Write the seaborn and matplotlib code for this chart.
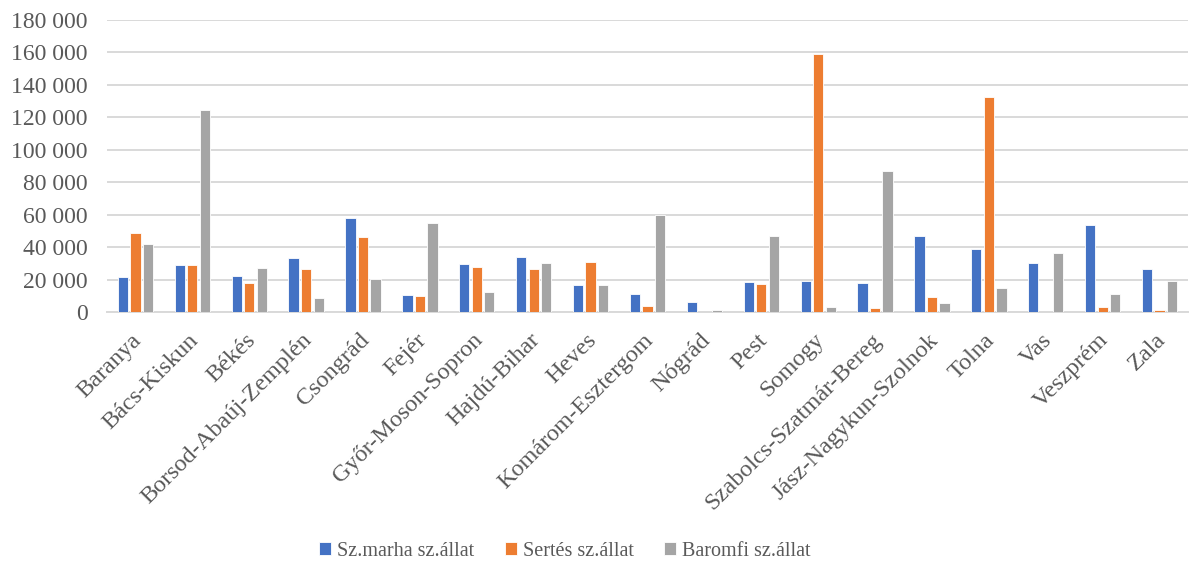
import matplotlib
matplotlib.use("Agg")
import matplotlib.pyplot as plt
import matplotlib.transforms as mtransforms
import seaborn as sns
import pandas as pd
from matplotlib.ticker import FuncFormatter, MultipleLocator

categories = ["Baranya", "Bács-Kiskun", "Békés", "Borsod-Abaúj-Zemplén", "Csongrád",
              "Fejér", "Győr-Moson-Sopron", "Hajdú-Bihar", "Heves", "Komárom-Esztergom",
              "Nógrád", "Pest", "Somogy", "Szabolcs-Szatmár-Bereg", "Jász-Nagykun-Szolnok",
              "Tolna", "Vas", "Veszprém", "Zala"]
series_names = ["Sz.marha sz.állat", "Sertés sz.állat", "Baromfi sz.állat"]
marha = [21700, 29200, 22000, 33500, 57900, 10700, 29800, 33900, 16400, 11300,
         6200, 18500, 19100, 18100, 46600, 38600, 30200, 53600, 26700]
sertes = [48900, 29200, 17900, 26500, 46000, 9900, 27500, 26700, 30600, 3900,
          0, 17500, 159200, 2700, 9500, 132300, 0, 3300, 1000]
baromfi = [42100, 124700, 27300, 8800, 20500, 54900, 12100, 30400, 16600, 59800,
           1200, 46600, 2900, 87100, 5800, 14800, 36400, 11100, 19300]
colors = ["#4472C4", "#ED7D31", "#A5A5A5"]

rows = []
for name, vals in zip(series_names, [marha, sertes, baromfi]):
    for c, v in zip(categories, vals):
        rows.append({"megye": c, "sorozat": name, "ertek": v})
df = pd.DataFrame(rows)

sns.set_style("white")
plt.rcParams["font.family"] = ["Liberation Serif", "DejaVu Serif"]
text_color = "#595959"

fig = plt.figure(figsize=(11.9, 5.62), dpi=100)
ax = fig.add_axes([107 / 1190, 1 - 312 / 562, (1188 - 107) / 1190, (312 - 20) / 562])

sns.barplot(data=df, x="megye", y="ertek", hue="sorozat", order=categories,
            hue_order=series_names, palette=colors, saturation=1, width=0.66, gap=0.18,
            edgecolor="#FFFFFF", linewidth=0.6, ax=ax, legend=True, zorder=3)

ax.set_xlim(-0.5, len(categories) - 0.5)
ax.set_ylim(0, 180000)
ax.yaxis.set_major_locator(MultipleLocator(20000))
ax.yaxis.set_major_formatter(FuncFormatter(lambda v, p: f"{int(v):,}".replace(",", " ")))
ax.grid(axis="y", color="#D9D9D9", linewidth=1.4, zorder=0)
ax.set_axisbelow(True)
for s in ["top", "right", "left"]:
    ax.spines[s].set_visible(False)
ax.spines["bottom"].set_color("#D9D9D9")
ax.spines["bottom"].set_linewidth(1.4)
ax.tick_params(axis="both", length=0, colors=text_color)
ax.tick_params(axis="y", labelsize=17, pad=14)
ax.tick_params(axis="x", labelsize=17.5, pad=18)
ax.set_xlabel("")
ax.set_ylabel("")
offset = mtransforms.ScaledTranslation(3 / 100, 0, fig.dpi_scale_trans)
for lbl in ax.get_xticklabels():
    lbl.set_rotation(45)
    lbl.set_ha("right")
    lbl.set_va("center")
    lbl.set_rotation_mode("anchor")
    lbl.set_color(text_color)
    lbl.set_transform(lbl.get_transform() + offset)

handles, labels = ax.get_legend_handles_labels()
ax.legend_.remove()
fig.legend(handles, labels, loc="center", bbox_to_anchor=(565 / 1190, 1 - 551 / 562),
           ncol=3, frameon=False, fontsize=14.5, handlelength=0.6, handleheight=0.6,
           handletextpad=0.3, columnspacing=1.5, labelcolor=text_color)

fig.savefig("out.png", dpi=100)
